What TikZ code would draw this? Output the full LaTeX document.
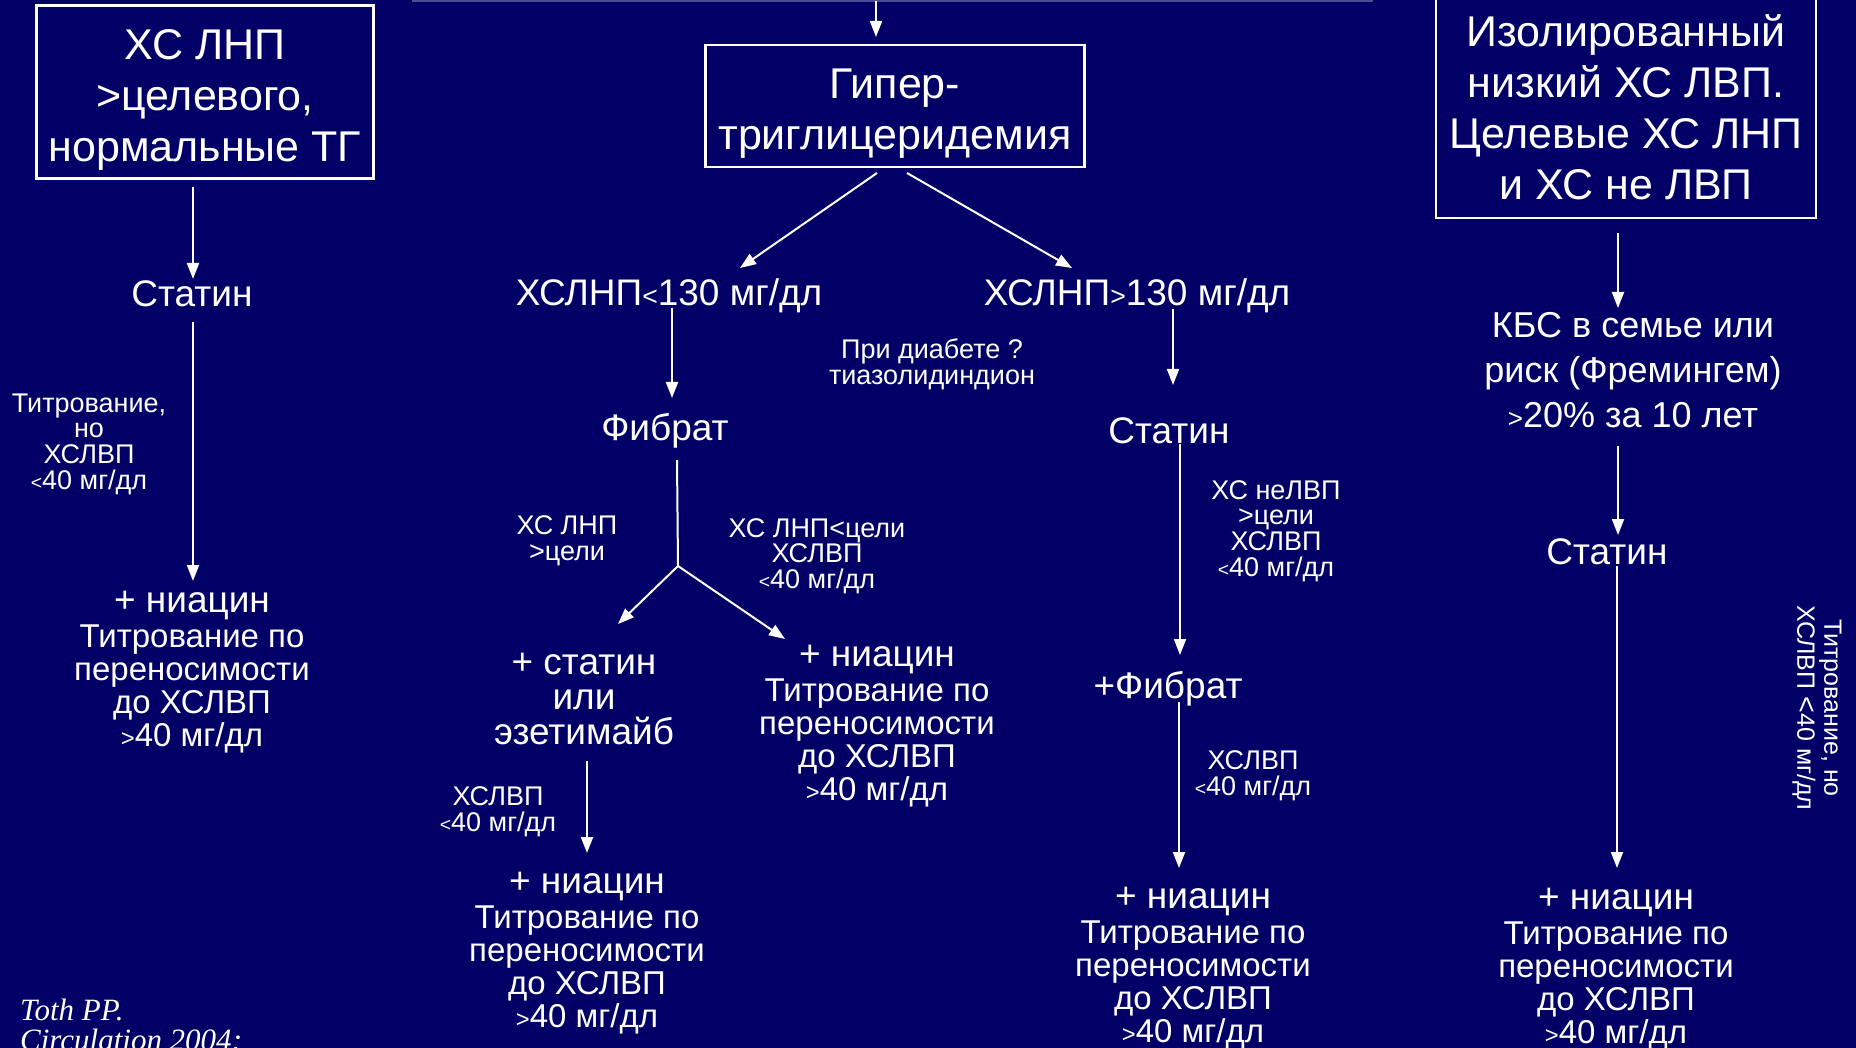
\documentclass[tikz,border=0pt]{standalone}
\usepackage{fontspec}
\setmainfont{Liberation Sans}
\newfontfamily\tothfont{Liberation Serif}
\usetikzlibrary{arrows.meta}
\definecolor{bgnavy}{RGB}{2,0,102}
\definecolor{toplinec}{RGB}{75,75,150}
\newcommand{\smc}[1]{\scalebox{0.72}{#1}}
\begin{document}
\begin{tikzpicture}[x=1pt,y=-1pt,
 every node/.style={text=white, inner sep=0pt},
 boxn/.style={draw=white, line width=2.5pt},
 boxt/.style={align=center, font=\fontsize{43}{51}\selectfont},
 bigt/.style={font=\fontsize{37}{35}\selectfont, align=center},
 labt/.style={font=\fontsize{27}{25.7}\selectfont, align=center},
 niac/.style={font=\fontsize{33}{33}\selectfont, align=center},
 arr/.style={draw=white, line width=2pt, -{Triangle[length=16pt,width=12pt]}},
 lnw/.style={draw=white, line width=2pt}]
\fill[bgnavy] (0,0) rectangle (1856,1048);
\useasboundingbox (0,0) rectangle (1856,1048);

% boxes
\node[boxn, minimum width=337pt, minimum height=173pt] (box1) at (205,92) {};
\node[boxt] (box1t) at (205,100) {ХС ЛНП\\>целевого,\\нормальные ТГ};
\node[boxn, minimum width=379pt, minimum height=122pt] (box2) at (895,106) {};
\node[boxt] (box2t) at (895,114) {Гипер-\\триглицеридемия};
\node[boxn, minimum width=380pt, minimum height=222pt] (box3) at (1626,107) {};
\node[boxt] (box3t) at (1626,107) {Изолированный\\низкий ХС ЛВП.\\Целевые ХС ЛНП\\и ХС не ЛВП};

% top line and entry arrow
\coordinate (tl1) at (412,1);
\coordinate (tl2) at (1373,1);
\draw[toplinec, line width=2pt] (tl1) -- (tl2);
\coordinate (tin) at (876,1);
\coordinate (tout) at (876,37);
\draw[arr] (tin) -- (tout);

% column 1
\node[bigt] (statin1) at (192,294) {Статин};
\node[labt] (lab1) at (89,444) {Титрование,\\но\\ХСЛВП\\\smc{<}40 мг/дл};
\node[niac] (n1) at (192,672) {{\fontsize{37}{37}\selectfont + ниацин}\\[2.5pt]Титрование по\\переносимости\\до ХСЛВП\\\smc{>}40 мг/дл};
\coordinate (a1s) at (193,187);
\coordinate (a1e) at (193,279);
\draw[arr] (a1s) -- (a1e);
\coordinate (a2s) at (193,322);
\coordinate (a2e) at (193,581);
\draw[arr] (a2s) -- (a2e);

% column 2 (left branch of hyper-TG)
\node[bigt] (ldl1) at (669,296) {ХСЛНП\smc{<}130 мг/дл};
\node[bigt] (ldl2) at (1137,296) {ХСЛНП\smc{>}130 мг/дл};
\node[labt] (diab) at (932,364) {При диабете ?\\тиазолидиндион};
\coordinate (b1s) at (877,173);
\coordinate (b1e) at (740,268);
\draw[arr] (b1s) -- (b1e);
\coordinate (b2s) at (907,173);
\coordinate (b2e) at (1072,268);
\draw[arr] (b2s) -- (b2e);

\node[bigt] (fib1) at (665,431) {Фибрат};
\coordinate (c1s) at (672,308);
\coordinate (c1e) at (672,398);
\draw[arr] (c1s) -- (c1e);
\coordinate (fs) at (677,460);
\coordinate (fj) at (678,566);
\draw[lnw] (fs) -- (fj);
\coordinate (fl) at (618,624);
\coordinate (fr) at (785,639);
\draw[arr] (fj) -- (fl);
\draw[arr] (fj) -- (fr);
\node[labt] (lab2) at (567,541) {ХС ЛНП\\>цели};
\node[labt] (lab3) at (817,556) {ХС ЛНП<цели\\ХСЛВП\\\smc{<}40 мг/дл};

\node[bigt] (stz) at (584,699) {+ статин\\или\\эзетимайб};
\node[niac] (n2) at (877,726) {{\fontsize{37}{37}\selectfont + ниацин}\\[2.5pt]Титрование по\\переносимости\\до ХСЛВП\\\smc{>}40 мг/дл};
\coordinate (d1s) at (587,761);
\coordinate (d1e) at (587,853);
\draw[arr] (d1s) -- (d1e);
\node[labt] (lab4) at (498,812) {ХСЛВП\\\smc{<}40 мг/дл};
\node[niac] (n3) at (587,953) {{\fontsize{37}{37}\selectfont + ниацин}\\[2.5pt]Титрование по\\переносимости\\до ХСЛВП\\\smc{>}40 мг/дл};

% column 3
\node[bigt] (statin2) at (1169,431) {Статин};
\coordinate (e1s) at (1173,309);
\coordinate (e1e) at (1173,385);
\draw[arr] (e1s) -- (e1e);
\coordinate (e2s) at (1180,444);
\coordinate (e2e) at (1180,655);
\draw[arr] (e2s) -- (e2e);
\node[labt] (lab5) at (1276,531) {ХС неЛВП\\>цели\\ХСЛВП\\\smc{<}40 мг/дл};
\node[bigt] (fib2) at (1168,689) {+Фибрат};
\coordinate (e3s) at (1179,702);
\coordinate (e3e) at (1179,868);
\draw[arr] (e3s) -- (e3e);
\node[labt] (lab6) at (1253,776) {ХСЛВП\\\smc{<}40 мг/дл};
\node[niac] (n4) at (1193,968) {{\fontsize{37}{37}\selectfont + ниацин}\\[2.5pt]Титрование по\\переносимости\\до ХСЛВП\\\smc{>}40 мг/дл};

% column 4
\coordinate (g1s) at (1618,233);
\coordinate (g1e) at (1618,308);
\draw[arr] (g1s) -- (g1e);
\node[font=\fontsize{36}{45}\selectfont, align=center] (kbs) at (1633,370) {КБС в семье или\\риск (Фремингем)\\\smc{>}20\% за 10 лет};
\coordinate (g2s) at (1618,446);
\coordinate (g2e) at (1618,535);
\draw[arr] (g2s) -- (g2e);
\node[bigt] (statin3) at (1607,552) {Статин};
\coordinate (g3s) at (1617,566);
\coordinate (g3e) at (1617,868);
\draw[arr] (g3s) -- (g3e);
\node[font=\fontsize{25}{27}\selectfont, align=center, rotate=-90] (lab7) at (1817,708) {Титрование, но\\ХСЛВП \scalebox{1.15}{<}40 мг/дл};
\node[niac] (n5) at (1616,969) {{\fontsize{37}{37}\selectfont + ниацин}\\[2.5pt]Титрование по\\переносимости\\до ХСЛВП\\\smc{>}40 мг/дл};

% reference
\node[anchor=north west, align=left, font=\tothfont\itshape\fontsize{31}{30}\selectfont] (toth) at (20,999) {Toth PP.\\Circulation 2004;};
\end{tikzpicture}
\end{document}
